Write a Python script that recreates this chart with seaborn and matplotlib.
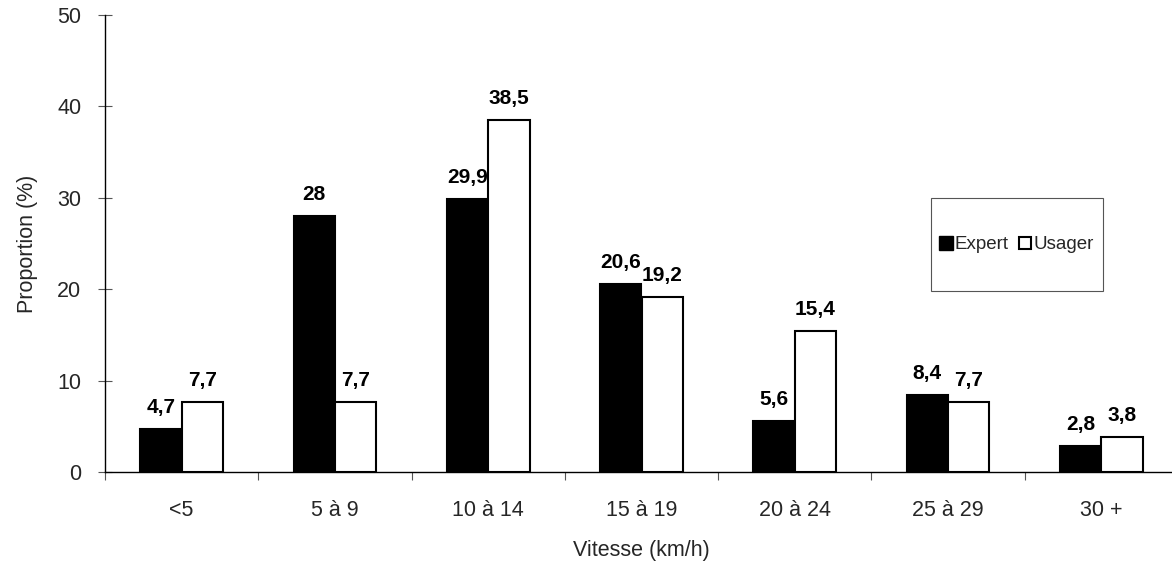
import matplotlib
matplotlib.use("Agg")
import matplotlib.pyplot as plt
from matplotlib.patches import Rectangle
from matplotlib.lines import Line2D
import seaborn as sns
import pandas as pd
import numpy as np

categories = ["<5", "5 à 9", "10 à 14", "15 à 19", "20 à 24", "25 à 29", "30 +"]
expert = [4.7, 28.0, 29.9, 20.6, 5.6, 8.4, 2.8]
usager = [7.7, 7.7, 38.5, 19.2, 15.4, 7.7, 3.8]
series = ["Expert", "Usager"]
yticks = [0, 10, 20, 30, 40, 50]

df = pd.DataFrame({
    "Vitesse": categories * 2,
    "Proportion": expert + usager,
    "Groupe": ["Expert"] * len(categories) + ["Usager"] * len(categories),
})

sns.set_style("white")
plt.rcParams["font.family"] = ["Liberation Sans", "DejaVu Sans"]

W, H = 1172, 565
fig = plt.figure(figsize=(W / 100, H / 100), dpi=100)
ax_left, ax_right, ax_bottom, ax_top = 105, 1178, 472, 15
ax = fig.add_axes([ax_left / W, 1 - ax_bottom / H,
                   (ax_right - ax_left) / W, (ax_bottom - ax_top) / H])

sns.barplot(data=df, x="Vitesse", y="Proportion", hue="Groupe",
            order=categories, hue_order=series,
            palette={"Expert": "black", "Usager": "white"},
            width=0.54, gap=0, edgecolor="black", linewidth=1.5,
            errorbar=None, legend=False, ax=ax)

for container, vals in zip(ax.containers, [expert, usager]):
    for bar, v in zip(container, vals):
        label = f"{v:g}".replace(".", ",")
        ax.annotate(label, (bar.get_x() + bar.get_width() / 2, v),
                    xytext=(0, 12), textcoords="offset pixels",
                    ha="center", va="bottom", fontsize=15,
                    fontweight="bold", color="black")

ax.set_xlim(-0.5, len(categories) - 0.5)
ax.set_ylim(0, 50)
ax.set_yticks(yticks)
ax.set_xticks(np.arange(len(categories)))
ax.set_xticklabels(categories)
ax.set_xticks(np.arange(len(categories)) - 0.5, minor=True)

for side in ["top", "right"]:
    ax.spines[side].set_visible(False)
for side in ["left", "bottom"]:
    ax.spines[side].set_color("black")
    ax.spines[side].set_linewidth(1.0)

ax.tick_params(axis="y", which="major", direction="inout", length=10,
               width=0.8, color="#555555", labelsize=15.5, pad=12, left=True)
ax.tick_params(axis="x", which="major", length=0, labelsize=15.5, pad=20)
ax.tick_params(axis="x", which="minor", direction="out", length=6,
               width=0.8, color="#555555", bottom=True)

ax.set_xlabel("Vitesse (km/h)", fontsize=15.5, labelpad=14)
ax.set_ylabel("Proportion (%)", fontsize=15.5, labelpad=14)

# legend box
lx0, lx1, ly0, ly1 = 931, 1103, 198, 291
fig.patches.append(Rectangle((lx0 / W, 1 - ly1 / H), (lx1 - lx0) / W,
                             (ly1 - ly0) / H, transform=fig.transFigure,
                             facecolor="white", edgecolor="#555555",
                             linewidth=0.8, zorder=5))
handles = [
    Line2D([], [], marker="s", linestyle="none", markersize=10,
           markerfacecolor="black", markeredgecolor="black"),
    Line2D([], [], marker="s", linestyle="none", markersize=9,
           markerfacecolor="white", markeredgecolor="black",
           markeredgewidth=1.5),
]
leg = fig.legend(handles, series, loc="center",
                 bbox_to_anchor=((lx0 + lx1) / 2 / W, 1 - (ly0 + ly1) / 2 / H),
                 ncol=2, frameon=False, fontsize=13.5, handlelength=0.6,
                 handletextpad=0.15, columnspacing=0.6)
leg.set_zorder(6)

fig.savefig("out.png", dpi=100)
